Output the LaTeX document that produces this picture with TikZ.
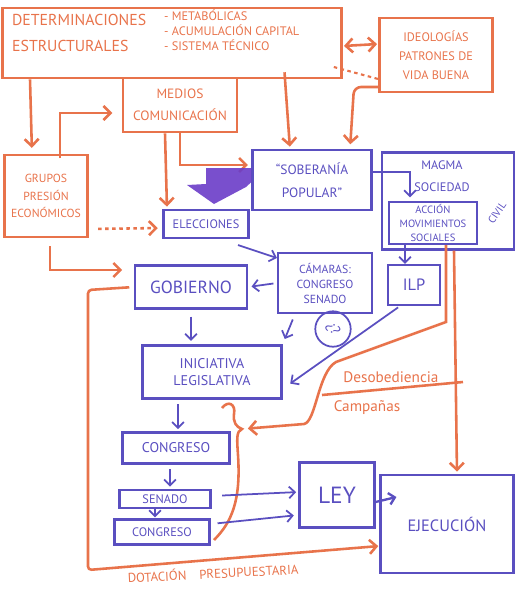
\documentclass[tikz,border=0pt]{standalone}
\usepackage{fontspec}
\setmainfont{PT Sans}
\usetikzlibrary{arrows.meta, calc}
\definecolor{naranja}{HTML}{E8734B}
\definecolor{azul}{HTML}{5A4FC0}
\definecolor{morado}{HTML}{6A3CC8}

\begin{document}
\begin{tikzpicture}[x=0.03cm, y=-0.03cm,
    caja/.style={draw=naranja, line width=2.2pt, text=naranja, align=center, inner sep=1pt},
    cajaz/.style={draw=azul, line width=1.8pt, text=azul, align=center, inner sep=1pt},
    flecha/.style={naranja, line width=2.2pt, -{Straight Barb[length=6pt,width=12pt]}},
    flechaz/.style={azul, line width=1.5pt, -{Straight Barb[length=5pt,width=10pt]}}
  ]
  \useasboundingbox (0,0) rectangle (528,604);
  % Cajas naranja
  \node[caja, minimum width=10.17cm, minimum height=2.1cm] (det) at (172,43) {};
  \node[text=naranja, align=left, anchor=west, font=\fontsize{13.5}{22}\selectfont] (dettxt) at (8,33) {DETERMINACIONES\\ESTRUCTURALES};
  \node[text=naranja, align=left, anchor=west, font=\fontsize{10.5}{12.8}\selectfont] (detlista) at (160,30) {- METABÓLICAS\\- ACUMULACIÓN CAPITAL\\- SISTEMA TÉCNICO};
  \node[caja, minimum width=3.39cm, minimum height=2.22cm, font=\fontsize{10.5}{16}\selectfont] (ideo) at (436,55) {IDEOLOGÍAS\\PATRONES DE\\VIDA BUENA};
  \node[caja, minimum width=3.42cm, minimum height=1.62cm, font=\fontsize{11.5}{19}\selectfont] (med) at (180,105) {MEDIOS\\COMUNICACIÓN};
  \node[caja, minimum width=2.49cm, minimum height=2.46cm, font=\fontsize{10}{15}\selectfont] (grp) at (46,196) {GRUPOS\\PRESIÓN\\ECONÓMICOS};
  % Cajas azules
  \node[cajaz, minimum width=3.57cm, minimum height=1.8cm, font=\fontsize{11.5}{19.5}\selectfont] (sob) at (312,180) {``SOBERANÍA\\POPULAR''};
  \node[cajaz, minimum width=3.96cm, minimum height=2.91cm] (magma) at (448,201) {};
  \node[text=azul, align=center, font=\fontsize{10.5}{19}\selectfont] (magmatxt) at (442,176) {MAGMA\\SOCIEDAD};
  \node[text=azul, rotate=55, inner sep=0pt, font=\fontsize{9}{9}\selectfont] (civil) at (497,213) {CIVIL};
  \node[cajaz, minimum width=2.64cm, minimum height=1.26cm, font=\fontsize{9}{12}\selectfont] (acc) at (433,223) {ACCIÓN\\MOVIMIENTOS\\SOCIALES};
  \node[cajaz, minimum width=2.55cm, minimum height=0.84cm, font=\fontsize{10.5}{10.5}\selectfont] (elec) at (206,224) {ELECCIONES};
  \node[cajaz, minimum width=2.82cm, minimum height=1.8cm, font=\fontsize{10}{12.8}\selectfont] (cam) at (325,283) {CÁMARAS:\\CONGRESO\\SENADO};
  \node[cajaz, minimum width=3.36cm, minimum height=1.29cm, font=\fontsize{15}{15}\selectfont] (gob) at (191,287) {GOBIERNO};
  \node[cajaz, minimum width=1.56cm, minimum height=1.2cm, font=\fontsize{14}{14}\selectfont] (ilp) at (414,285) {ILP};
  \node[cajaz, minimum width=4.17cm, minimum height=1.59cm, font=\fontsize{12}{14}\selectfont] (ini) at (212,372) {INICIATIVA\\LEGISLATIVA};
  \node[cajaz, minimum width=3.21cm, minimum height=0.93cm, font=\fontsize{12}{12}\selectfont] (cong) at (176,448) {CONGRESO};
  \node[cajaz, minimum width=2.73cm, minimum height=0.54cm, font=\fontsize{10.5}{10.5}\selectfont] (sen) at (165,499) {SENADO};
  \node[cajaz, minimum width=2.85cm, minimum height=0.75cm, font=\fontsize{10.5}{10.5}\selectfont] (congdos) at (162,532) {CONGRESO};
  \node[cajaz, minimum width=2.25cm, minimum height=1.95cm, font=\fontsize{20}{20}\selectfont] (ley) at (337,495) {LEY};
  \node[cajaz, minimum width=3.99cm, minimum height=2.94cm, font=\fontsize{14}{14}\selectfont] (eje) at (447,524) {EJECUCIÓN};
  \node[draw=azul, line width=1.5pt, circle, minimum size=1.02cm, text=azul, font=\fontsize{12}{12}\selectfont] (duda) at (333,329) {\rotatebox{-60}{¿?}};
  % Textos sueltos
  \node[text=naranja, font=\fontsize{13}{13}\selectfont] (desob) at (391,377) {Desobediencia};
  \node[text=naranja, font=\fontsize{13}{13}\selectfont] (camp) at (367,408) {Campañas};
  \node[text=naranja, rotate=3, font=\fontsize{11}{11}\selectfont] (dotac) at (213,573) {DOTACIÓN\quad PRESUPUESTARIA};
  \coordinate (llave) at (242,429);
  % Flechas naranja
  \draw[flecha, shorten >=5pt] (det.south -| 30,0) -- (grp.north -| 32,0);
  \draw[flecha, shorten >=8pt, shorten <=-4pt] (grp.north -| 60,0) |- (med.west |- 0,113);
  \draw[flecha, shorten >=2pt] (med.south -| 165,0) -- (elec.north -| 167,0);
  \draw[flecha, shorten >=3pt] (med.south -| 180,0) |- (sob.west |- 0,165);
  \draw[flecha, shorten <=-6pt, shorten >=2pt] (det.south -| 285,0) -- (sob.north -| 290,0);
  \draw[flecha, rounded corners=6pt, shorten >=4pt] (ideo.west |- 0,87) -- (354,87) -- (sob.north -| 350,0);
  \draw[naranja, line width=2.2pt, {Straight Barb[length=6pt,width=12pt]}-{Straight Barb[length=6pt,width=12pt]}, shorten <=1pt, shorten >=1pt] (det.east |- 0,46) -- (ideo.west |- 0,44);
  \draw[naranja, line width=1.8pt, dashed] (det.east |- 0,67) ++(-9,0) -- (ideo.west |- 0,79);
  \draw[flecha, dashed, shorten <=8pt, shorten >=4pt] (grp.east |- 0,229) -- (elec.west |- 0,228);
  \draw[flecha, shorten <=7pt, shorten >=10pt] (grp.south -| 50,0) |- (gob.west |- 0,270);
  \draw[flecha, rounded corners=3pt, shorten <=4pt, shorten >=1pt] (gob.west |- 0,287) -- (88,290) -- (88,570) -- (eje.west |- 0,546);
  \draw[flecha, shorten >=5pt] (acc.south -| 446,0) -- (446,322) -- (336,362) .. controls (318,372) and (316,422) .. (304,424) -- (llave);
  \draw[flecha, shorten >=2pt] (magma.south -| 454,0) -- (eje.north -| 457,0);
  \draw[naranja, line width=2.2pt] (222,408) .. controls (228,400) and (236,404) .. (234,414) .. controls (233,422) and (236,427) .. (llave) .. controls (236,431) and (237,440) .. (238,455) .. controls (241,500) and (232,522) .. (214,540);
  \draw[naranja, line width=2.2pt] (322,395) -- (463,382);
  % Flechas azules
  \fill[morado, opacity=0.9] (sob.west |- 0,168) -- (206,168) -- (206,184) -- (187,185) -- (214,204) -- (246,187) -- (sob.west |- 0,182) -- cycle;
  \draw[flechaz, shorten >=3pt] (sob.east |- 0,172) -| (acc.north -| 410,0);
  \draw[flechaz] (elec.south -| 238,0) ++(0,6) -- (cam.west |- 0,258);
  \draw[flechaz, shorten <=3pt, shorten >=3pt] (cam.west) -- (gob.east);
  \draw[flechaz] (acc.south -| 405,0) -- (ilp.north -| 405,0);
  \draw[flechaz, shorten <=6pt, shorten >=3pt] (gob.south) -- (ini.north -| gob.south);
  \draw[flechaz, shorten <=5pt, shorten >=5pt] (cam.south -| 295,0) -- (ini.north east);
  \draw[flechaz, shorten <=2pt, shorten >=8pt] (ilp.south -| 400,0) -- (ini.east |- 0,389);
  \draw[flechaz, shorten <=4pt, shorten >=2pt] (ini.south -| 178,0) -- (cong.north -| 178,0);
  \draw[flechaz, shorten <=4pt, shorten >=2pt] (cong.south -| 170,0) -- (sen.north -| 170,0);
  \draw[flechaz, shorten >=1pt] (sen.south -| 155,0) -- (congdos.north -| 155,0);
  \draw[flechaz, shorten <=9pt, shorten >=2pt] (sen.east |- 0,496) -- (ley.west |- 0,492);
  \draw[flechaz, shorten <=6pt, shorten >=4pt] (congdos.east |- 0,524) -- (ley.west |- 0,515);
  \draw[flechaz, line width=2pt] (ley.east |- 0,502) -- ($(eje.west |- 0,497)+(17,0)$);
\end{tikzpicture}
\end{document}
